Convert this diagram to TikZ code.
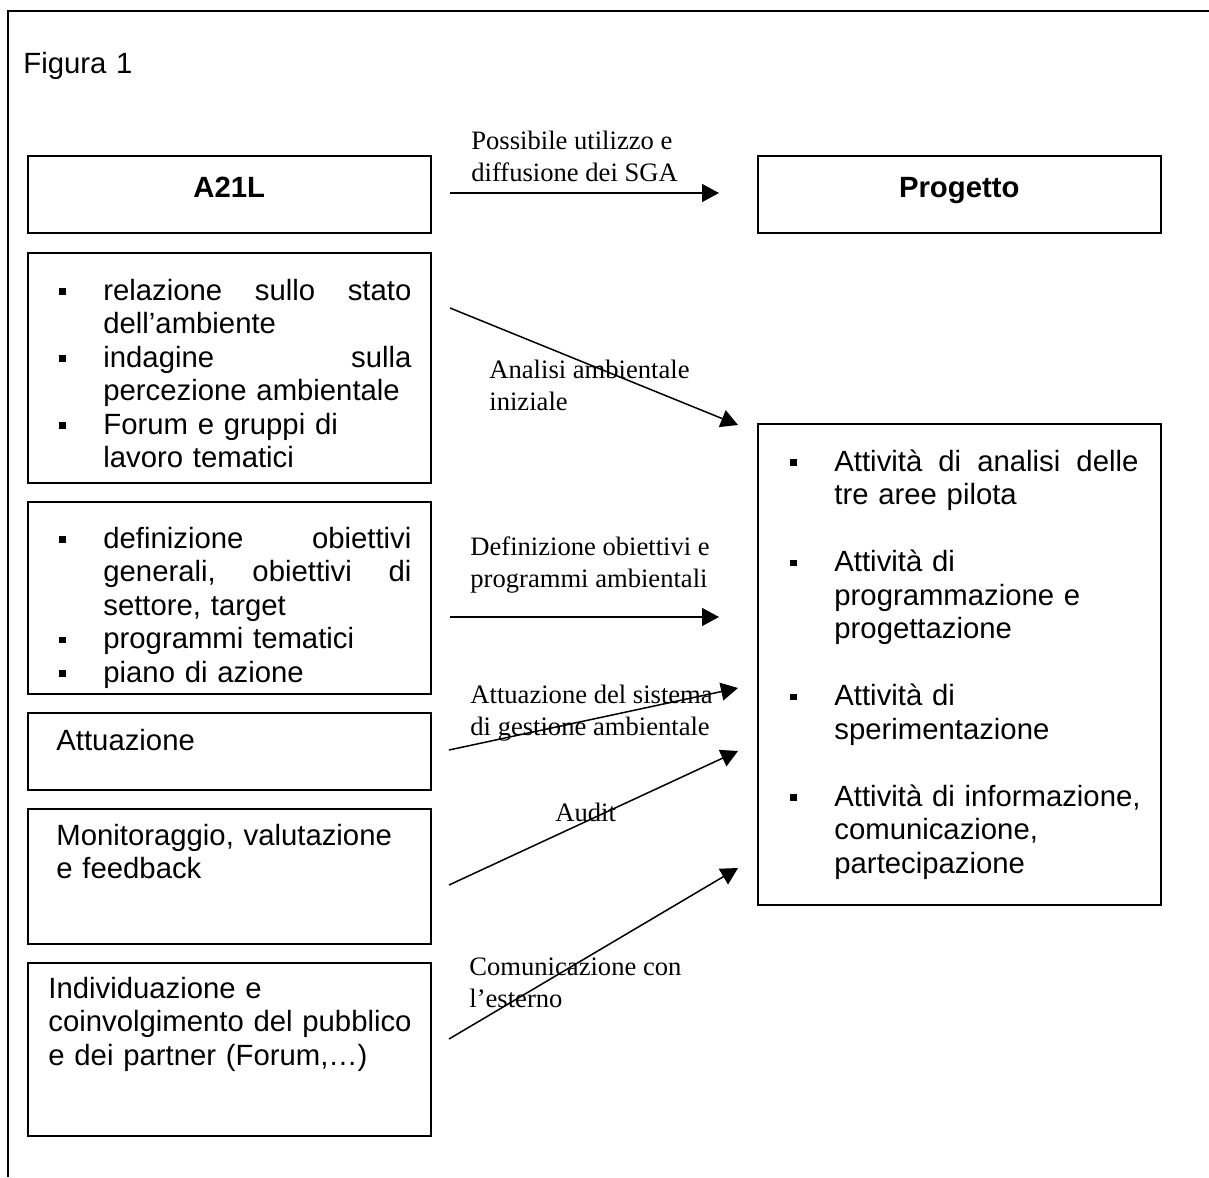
\documentclass[tikz,border=0pt]{standalone}
\usepackage{fontspec}
\setmainfont{Liberation Sans}
\newfontfamily\tnr{Liberation Serif}
\usetikzlibrary{arrows.meta}
\newcommand{\bxf}{\fontsize{14.65}{16.75}\selectfont}
\newcommand{\lbf}{\tnr\fontsize{13.3}{16}\selectfont}
\newcommand{\bsq}{\raisebox{2.9pt}{\rule{3.2pt}{3.2pt}}}
\newcommand{\bitem}[2]{\par\noindent\hangindent=#1\hangafter=1\makebox[#1][l]{\hspace*{1pt}\bsq}#2\par}
\tikzset{
  box/.style={draw, line width=0.75pt, inner sep=0pt, anchor=north west, minimum width=201.5pt},
  ttl/.style={font=\bxf\bfseries, text height=10.5pt, text depth=7pt},
  btxt/.style={anchor=north west, inner sep=0pt, text width=190pt, align=left, font=\bxf},
  lbl/.style={anchor=north west, inner sep=0pt, align=left, font=\lbf},
  conn/.style={line width=0.75pt, -{Triangle[length=8.5pt,width=9pt]}},
}
\begin{document}
\begin{tikzpicture}[x=0.5pt,y=-0.5pt]
\useasboundingbox (0,0) rectangle (1209,1177);
\draw[line width=1pt] (1209,11) -- (8,11) -- (8,1177);
\node[btxt] (fig) at (23,49.55) {\strut Figura 1};
% boxes
\node[box, ttl, minimum height=38.5pt] (a21) at (27,155) {A21L};
\node[box, ttl, minimum height=38.5pt] (prog) at (757,155) {Progetto};
\node[box, minimum height=115pt] (b2) at (27,252) {};
\node[box, minimum height=96pt] (b3) at (27,501) {};
\node[box, minimum height=38.5pt] (b4) at (27,712) {};
\node[box, minimum height=67.5pt] (b5) at (27,808) {};
\node[box, minimum height=86.5pt] (b6) at (27,962) {};
\node[box, minimum height=240.5pt] (rb) at (757,423) {};
% box texts
\node[btxt] (t2) at (57,266.55) {%
\bitem{23pt}{\strut\makebox[154pt][l]{relazione\hfill sullo\hfill stato}\newline dell’ambiente}%
\bitem{23pt}{\makebox[154pt][l]{indagine\hfill sulla}\newline percezione ambientale}%
\bitem{23pt}{Forum e gruppi di\newline lavoro tematici}};
\node[btxt] (t3) at (57,514.55) {%
\bitem{23pt}{\strut\makebox[154pt][l]{definizione\hfill obiettivi}\newline\makebox[154pt][l]{generali,\hfill obiettivi\hfill di}\newline settore, target}%
\bitem{23pt}{programmi tematici}%
\bitem{23pt}{piano di azione}};
\node[btxt] (t4) at (56,726.55) {\strut Attuazione};
\node[btxt] (t5) at (56,821.55) {\strut Monitoraggio, valutazione\\e feedback};
\node[btxt] (t6) at (48,974.55) {\strut Individuazione e\\coinvolgimento del pubblico\\e dei partner (Forum,…)};
\node[btxt] (tr) at (788,437.55) {%
\bitem{23pt}{\strut\makebox[152pt][l]{Attività\hfill di\hfill analisi\hfill delle}\newline tre aree pilota}%
\vskip\baselineskip
\bitem{23pt}{Attività di\newline programmazione e\newline progettazione}%
\vskip\baselineskip
\bitem{23pt}{Attività di\newline sperimentazione}%
\vskip\baselineskip
\bitem{23pt}{Attività di informazione,\newline comunicazione,\newline partecipazione}};
% connector end points
\coordinate (p1s) at (450,193); \coordinate (p1e) at (719,193);
\coordinate (p2s) at (450,308); \coordinate (p2e) at (738,425);
\coordinate (p3s) at (450,617); \coordinate (p3e) at (719,617);
\coordinate (p4s) at (449,750); \coordinate (p4e) at (738,688);
\coordinate (p5s) at (449,885); \coordinate (p5e) at (738,751);
\coordinate (p6s) at (449,1039); \coordinate (p6e) at (738,868);
\draw[conn] (p1s) -- (p1e);
\draw[conn] (p2s) -- (p2e);
\draw[conn] (p3s) -- (p3e);
\draw[conn] (p4s) -- (p4e);
\draw[conn] (p5s) -- (p5e);
\draw[conn] (p6s) -- (p6e);
% labels
\node[lbl] (l1) at (471,126.6) {\strut Possibile utilizzo e\\diffusione dei SGA};
\node[lbl] (l2) at (489,355.6) {\strut Analisi ambientale\\iniziale};
\node[lbl] (l3) at (470,532.6) {\strut Definizione obiettivi e\\programmi ambientali};
\node[lbl] (l4) at (470,680.6) {\strut Attuazione del sistema\\di gestione ambientale};
\node[lbl] (l5) at (555,798.6) {\strut Audit};
\node[lbl] (l6) at (469,952.6) {\strut Comunicazione con\\l’esterno};
\end{tikzpicture}
\end{document}
